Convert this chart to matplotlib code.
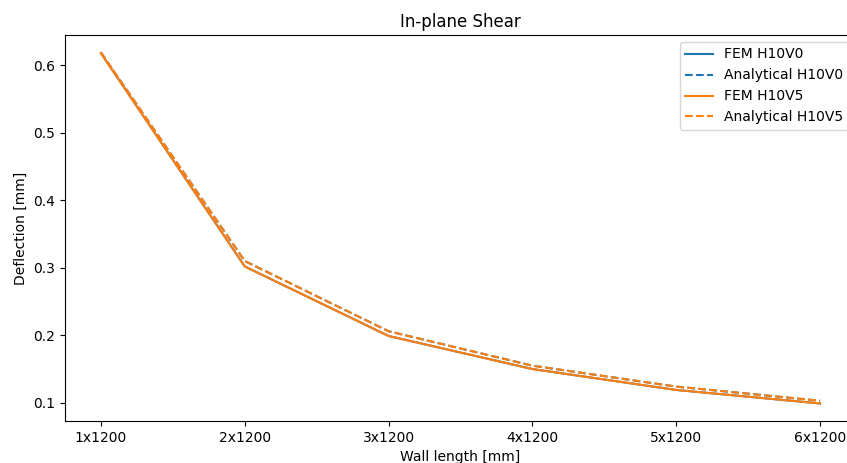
import matplotlib
matplotlib.use("Agg")
import matplotlib.pyplot as plt

walls = ["1x1200", "2x1200", "3x1200", "4x1200", "5x1200", "6x1200"]
fem_h10v0 = [0.618, 0.302, 0.199, 0.150, 0.119, 0.099]
ana_h10v0 = [0.619, 0.310, 0.206, 0.155, 0.124, 0.103]
fem_h10v5 = [0.618, 0.302, 0.199, 0.150, 0.119, 0.099]
ana_h10v5 = [0.619, 0.310, 0.206, 0.155, 0.124, 0.103]

fig = plt.figure(figsize=(8.47, 4.63), dpi=100)
# axes run past the right edge, like the cropped original
ax = fig.add_axes([65/847, 1 - 421/463, 791/847, 386/463])

ax.plot(walls, fem_h10v0, color='tab:blue', label='FEM H10V0')
ax.plot(walls, ana_h10v0, color='tab:blue', ls='--', label='Analytical H10V0')
ax.plot(walls, fem_h10v5, color='tab:orange', label='FEM H10V5')
ax.plot(walls, ana_h10v5, color='tab:orange', ls='--', label='Analytical H10V5')

ax.set_title("In-plane Shear")
ax.set_xlabel("Wall length [mm]")
ax.set_ylabel("Deflection [mm]")
ax.legend(loc='upper right')

fig.savefig("out.png", dpi=100)
